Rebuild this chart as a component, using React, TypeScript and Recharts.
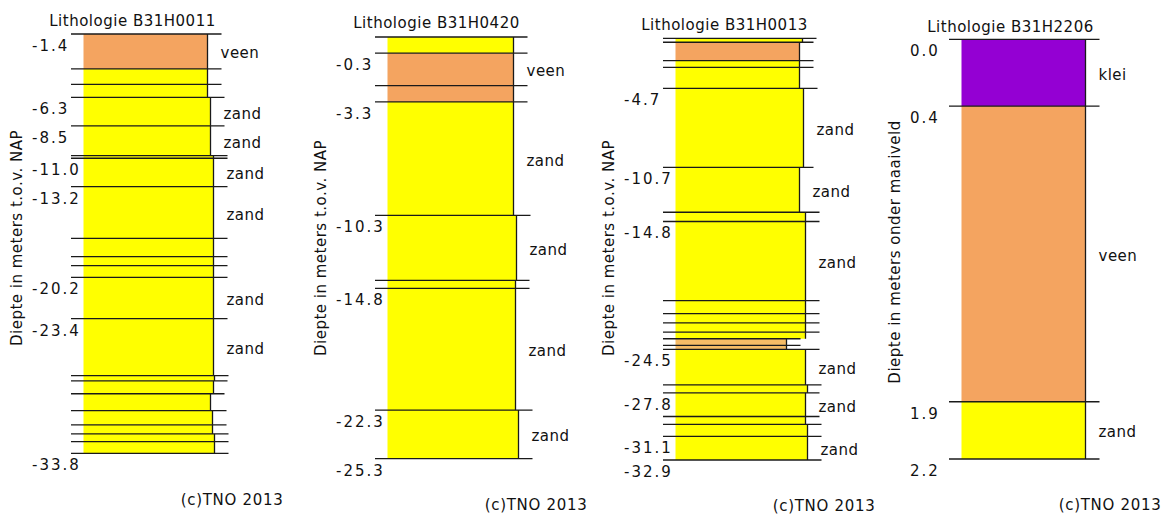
import React from 'react';
import { ComposedChart, XAxis, YAxis, ReferenceArea, ReferenceLine } from 'recharts';

// ---------------- DATA ----------------
const titles = ['Lithologie B31H0011', 'Lithologie B31H0420', 'Lithologie B31H0013', 'Lithologie B31H2206'];
const axisTitles = [
  'Diepte in meters t.o.v. NAP',
  'Diepte in meters t.o.v. NAP',
  'Diepte in meters t.o.v. NAP',
  'Diepte in meters onder maaiveld',
];
const copyright = '(c)TNO 2013';

// B31H0011
const b0011Tops = [-1.4, -4.1, -5.3, -6.3, -8.5, -10.8, -11.0, -13.2, -17.2, -18.6, -19.3, -20.2, -23.4, -27.8, -28.2, -29.2, -30.5, -31.6, -32.3, -32.9];
const b0011Bottom = -33.8;
const b0011Lith = ['veen', 'zand', 'zand', 'zand', 'zand', 'zand', 'zand', 'zand', 'zand', 'zand', 'zand', 'zand', 'zand', 'zand', 'zand', 'zand', 'zand', 'zand', 'zand', 'zand'];
const b0011Grain = [124, 124, 124, 127, 127, 130, 130, 130, 130, 130, 130, 130, 130, 131, 130, 127, 129, 129, 131, 131];
const b0011Ticks = [-1.4, -6.3, -8.5, -11.0, -13.2, -20.2, -23.4, -33.8];

// B31H0420
const b0420Tops = [0.7, -0.3, -2.3, -3.3, -10.3, -14.3, -14.8, -22.3];
const b0420Bottom = -25.3;
const b0420Lith = ['zand', 'veen', 'veen', 'zand', 'zand', 'zand', 'zand', 'zand'];
const b0420Grain = [126, 126, 126, 126, 129, 128, 128, 131];
const b0420Ticks = [-0.3, -3.3, -10.3, -14.8, -22.3, -25.3];

// B31H0013
const b0013Tops = [-0.9, -1.2, -2.6, -3.1, -4.7, -10.7, -14.1, -14.8, -20.8, -21.8, -22.5, -23.2, -23.7, -24.2, -24.5, -27.2, -27.8, -29.6, -30.2, -31.1];
const b0013Bottom = -32.9;
const b0013Lith = ['zand', 'veen', 'zand', 'zand', 'zand', 'zand', 'zand', 'zand', 'zand', 'zand', 'zand', 'zand', 'leem', 'leem', 'zand', 'zand', 'zand', 'zand', 'zand', 'zand'];
const b0013Grain = [127, 124, 124, 124, 128, 124, 130, 130, 130, 130, 130, 130, 111, 111, 130, 132, 130, 130, 132, 132];
const b0013Ticks = [-4.7, -10.7, -14.8, -24.5, -27.8, -31.1, -32.9];

// B31H2206 (depth below surface)
const b2206Tops = [0.0, 0.35, 1.9];
const b2206Bottom = 2.2;
const b2206Lith = ['klei', 'veen', 'zand'];
const b2206Grain = [124, 124, 124];
const b2206Ticks = [0.0, 0.35, 1.9, 2.2];

const lithColors: Record<string, string> = {
  zand: '#FFFF00',
  veen: '#F4A460',
  klei: '#9400D3',
  leem: '#F6BC66',
};

// ---------------- LAYOUT ----------------
const FONT = '"DejaVu Sans", Verdana, sans-serif';
const TEXT = '#111';
const LINE = '#1a1a1a';
const LINE_W = 1.3;
const Y_W = 70;
const X_MIN = -12.5;
const X_MAX = 160;
const LINE_EXT = 14;
const CHART_W = 285;
const CHART_H = 515;

const panelLayout = [
  { colLeft: 83.3, top: 34, bottom: 453.3, titleY: 26, copyY: 505, axisTitleY: 238 },
  { colLeft: 387.7, top: 37, bottom: 458.7, titleY: 27.5, copyY: 510, axisTitleY: 248 },
  { colLeft: 675, top: 38.3, bottom: 460, titleY: 29.5, copyY: 511, axisTitleY: 248 },
  { colLeft: 961.7, top: 39.3, bottom: 459, titleY: 31.5, copyY: 510, axisTitleY: 252 },
];

type Layer = { top: number; bottom: number; lith: string; grain: number };

function buildLayers(tops: number[], bottom: number, lith: string[], grain: number[]): Layer[] {
  return tops.map((t, i) => ({
    top: t,
    bottom: i + 1 < tops.length ? tops[i + 1] : bottom,
    lith: lith[i],
    grain: grain[i],
  }));
}

const boreholes = [
  { layers: buildLayers(b0011Tops, b0011Bottom, b0011Lith, b0011Grain), ticks: b0011Ticks },
  { layers: buildLayers(b0420Tops, b0420Bottom, b0420Lith, b0420Grain), ticks: b0420Ticks },
  { layers: buildLayers(b0013Tops, b0013Bottom, b0013Lith, b0013Grain), ticks: b0013Ticks },
  { layers: buildLayers(b2206Tops, b2206Bottom, b2206Lith, b2206Grain), ticks: b2206Ticks },
];

const fmt = (v: number) => (Math.round(v * 10 + (v >= 0 ? 1e-6 : -1e-6)) / 10).toFixed(1);

const layerLabel = (name: string) => (props: any) => {
  const vb = props && props.viewBox;
  if (!vb || Math.abs(vb.height) < 22.5) return null;
  return (
    <text
      x={vb.x + vb.width + 13}
      y={vb.y + vb.height / 2 + 7}
      fontFamily={FONT}
      fontSize={15}
      fill={TEXT}
      style={{ letterSpacing: 0.5 }}
    >
      {name}
    </text>
  );
};

function Panel({ index }: { index: number }) {
  const lay = panelLayout[index];
  const { layers, ticks } = boreholes[index];
  const first = layers[0].top;
  const last = layers[layers.length - 1].bottom;
  const lo = Math.min(first, last);
  const hi = Math.max(first, last);
  const reversed = last > first;
  const chartLeft = lay.colLeft + X_MIN - Y_W;
  const colLocal = Y_W - X_MIN;
  const plotW = X_MAX - X_MIN;
  const lastLayer = layers[layers.length - 1];

  const tickRenderer = (p: any) => (
    <text
      x={Y_W - 39}
      y={p.y + 17}
      fontFamily={FONT}
      fontSize={15}
      fill={TEXT}
      style={{ letterSpacing: 2 }}
    >
      {fmt(p.payload.value)}
    </text>
  );

  return (
    <div style={{ position: 'absolute', left: chartLeft, top: 0 }}>
      <ComposedChart
        width={CHART_W}
        height={CHART_H}
        data={layers}
        margin={{ top: lay.top, bottom: CHART_H - lay.bottom, left: 0, right: CHART_W - Y_W - plotW }}
      >
        <XAxis type="number" dataKey="grain" domain={[X_MIN, X_MAX]} allowDataOverflow hide />
        <YAxis
          type="number"
          domain={[lo, hi]}
          allowDataOverflow
          reversed={reversed}
          ticks={ticks}
          interval={0}
          axisLine={false}
          tickLine={false}
          width={Y_W}
          tick={tickRenderer}
        />
        {layers.map((l, i) => (
          <ReferenceArea
            key={'a' + i}
            x1={0}
            x2={l.grain}
            y1={l.top}
            y2={l.bottom}
            fill={lithColors[l.lith]}
            fillOpacity={1}
            stroke="none"
            ifOverflow="visible"
            label={layerLabel(l.lith)}
          />
        ))}
        {layers.map((l, i) => (
          <ReferenceLine
            key={'v' + i}
            segment={[
              { x: l.grain, y: l.top },
              { x: l.grain, y: l.bottom },
            ]}
            stroke={LINE}
            strokeWidth={LINE_W}
            ifOverflow="visible"
          />
        ))}
        {layers.map((l, i) => (
          <ReferenceLine
            key={'h' + i}
            segment={[
              { x: X_MIN, y: l.top },
              { x: l.grain + LINE_EXT, y: l.top },
            ]}
            stroke={LINE}
            strokeWidth={LINE_W}
            ifOverflow="visible"
          />
        ))}
        <ReferenceLine
          segment={[
            { x: X_MIN, y: lastLayer.bottom },
            { x: lastLayer.grain + LINE_EXT, y: lastLayer.bottom },
          ]}
          stroke={LINE}
          strokeWidth={LINE_W}
          ifOverflow="visible"
        />
        <text
          x={colLocal + 49}
          y={lay.titleY}
          textAnchor="middle"
          fontFamily={FONT}
          fontSize={15}
          fill={TEXT}
          style={{ letterSpacing: 0.5 }}
        >
          {titles[index]}
        </text>
        <text
          x={colLocal - 62}
          y={lay.axisTitleY}
          textAnchor="middle"
          fontFamily={FONT}
          fontSize={15}
          fill={TEXT}
          transform={`rotate(-90 ${colLocal - 62} ${lay.axisTitleY})`}
          style={{ letterSpacing: 0.5 }}
        >
          {axisTitles[index]}
        </text>
        <text
          x={colLocal + 200}
          y={lay.copyY}
          textAnchor="end"
          fontFamily={FONT}
          fontSize={15}
          fill={TEXT}
          style={{ letterSpacing: 0.7 }}
        >
          {copyright}
        </text>
      </ComposedChart>
    </div>
  );
}

export default function App() {
  return (
    <div
      style={{
        position: 'absolute',
        left: 0,
        top: 0,
        width: 1165,
        height: 515,
        overflow: 'hidden',
        background: '#fff',
      }}
    >
      {[0, 1, 2, 3].map((i) => (
        <Panel key={i} index={i} />
      ))}
    </div>
  );
}
